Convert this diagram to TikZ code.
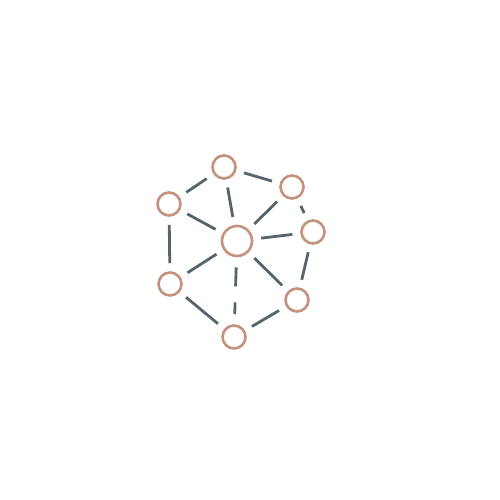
\documentclass[tikz,border=0pt]{standalone}
\definecolor{ringbrown}{HTML}{C4937E}
\definecolor{linkgray}{HTML}{56656B}
\tikzset{
	hub/.style={circle,draw=ringbrown,line width=1.5pt,fill=white,inner sep=0pt,minimum size=0.46cm},
	bighub/.style={hub,minimum size=0.6cm},
	link/.style={draw=linkgray,line width=1.6pt,shorten >=0.16cm,shorten <=0.16cm}
}
\begin{document}
	\begin{tikzpicture}
		\useasboundingbox (0,0) rectangle (10,10);
		\node[hub] (top) at (4.48,6.66) {};
		\node[hub] (topright) at (5.84,6.26) {};
		\node[hub] (left) at (3.38,5.92) {};
		\node[hub] (right) at (6.26,5.36) {};
		\node[bighub] (center) at (4.74,5.18) {};
		\node[hub] (lowleft) at (3.40,4.32) {};
		\node[hub] (lowright) at (5.94,4.00) {};
		\node[hub] (bottom) at (4.68,3.26) {};

		\foreach \a/\b in {top/left,top/topright,top/center,left/center,topright/center,topright/right,right/center,left/lowleft,lowleft/center,center/lowright,right/lowright,lowleft/bottom,bottom/lowright}{
			\draw[link] (\a)--(\b);
			}

		\draw[link,shorten >=0.2cm,shorten <=0.2cm,dash pattern=on 0.38cm off 0.32cm] (center)--(bottom);
	\end{tikzpicture}
\end{document}
